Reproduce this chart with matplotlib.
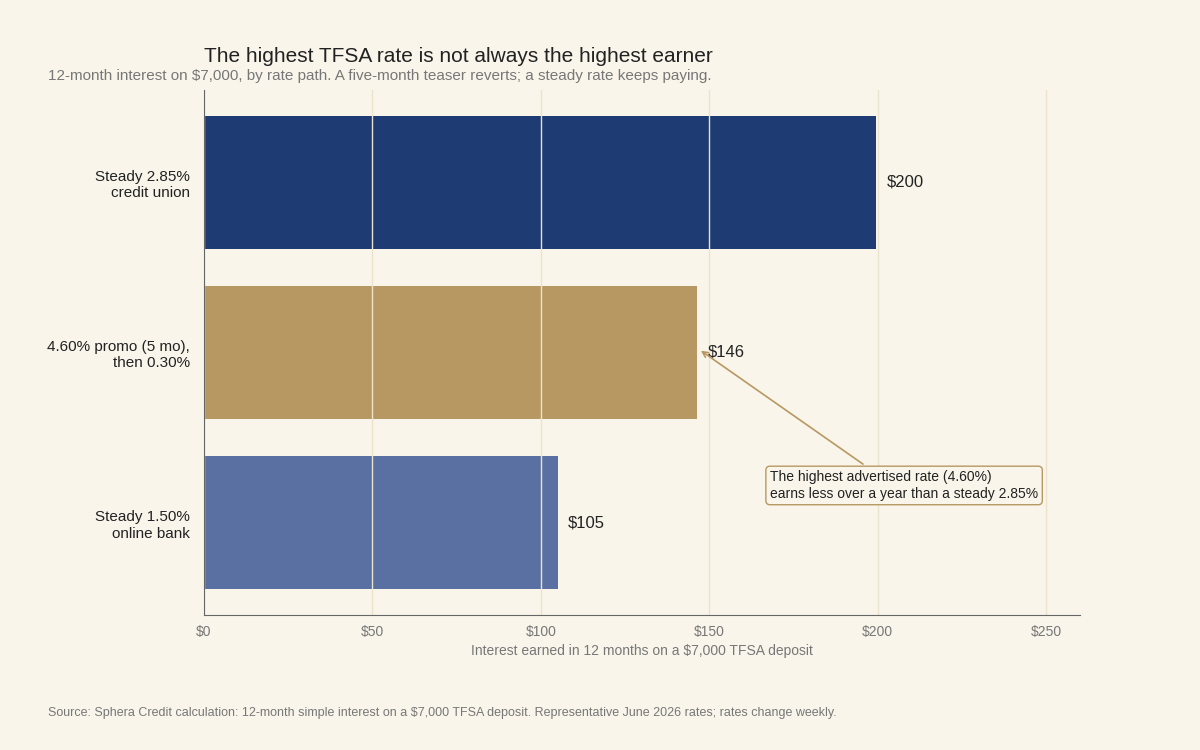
import matplotlib.pyplot as plt
import numpy as np

plt.rcParams['font.family'] = ['Liberation Sans', 'DejaVu Sans']

categories = ["Steady 2.85%\ncredit union", "4.60% promo (5 mo),\nthen 0.30%", "Steady 1.50%\nonline bank"]
interest = [199.5, 146.4, 105.0]
value_labels = ["$200", "$146", "$105"]
colors = ["#1f3b73", "#b89862", "#5a70a3"]
xticks = [0, 50, 100, 150, 200, 250]

bg = "#f9f5ea"
fig = plt.figure(figsize=(12, 7.5), dpi=100, facecolor=bg)
ax = fig.add_axes([0.17, 0.18, 0.73, 0.70], facecolor=bg)

y = np.arange(len(categories))
ax.barh(y, interest, height=0.78, color=colors, zorder=2)
ax.set_ylim(2.54, -0.54)
ax.set_xlim(0, 260)

for yi, v, lab in zip(y, interest, value_labels):
    ax.annotate(lab, (v, yi), xytext=(7.5, 0), textcoords="offset points",
                va="center", ha="left", fontsize=12, color="#222222")

ax.set_yticks(y)
ax.set_yticklabels(categories, fontsize=11, color="#222222")
ax.set_xticks(xticks)
ax.set_xticklabels(["$" + str(t) for t in xticks], fontsize=10, color="#777777")
ax.tick_params(length=0, pad=10)
ax.tick_params(axis="x", pad=7)
ax.set_xlabel("Interest earned in 12 months on a $7,000 TFSA deposit", fontsize=10, color="#777777", labelpad=4)

ax.grid(axis="x", color="#ebe3cb", linewidth=1, zorder=3)
ax.set_axisbelow(False)
for s in ["top", "right"]:
    ax.spines[s].set_visible(False)
for s in ["left", "bottom"]:
    ax.spines[s].set_color("#666666")
    ax.spines[s].set_zorder(4)

ax.annotate("The highest advertised rate (4.60%)\nearns less over a year than a steady 2.85%",
            xy=(146.8, 0.98), xytext=(168, 1.78), fontsize=10, color="#222222",
            va="center", ha="left",
            bbox=dict(boxstyle="round,pad=0.3", fc=bg, ec="#b89862", lw=1),
            arrowprops=dict(arrowstyle="->", color="#b89862", lw=1.2, relpos=(0.38, 1)),
            zorder=5)

fig.text(0.17, 0.924, "The highest TFSA rate is not always the highest earner", fontsize=15, color="#222222", va="center")
fig.text(0.04, 0.899, "12-month interest on $7,000, by rate path. A five-month teaser reverts; a steady rate keeps paying.",
         fontsize=11, color="#777777", va="center")
fig.text(0.04, 0.049, "Source: Sphera Credit calculation: 12-month simple interest on a $7,000 TFSA deposit. Representative June 2026 rates; rates change weekly.",
         fontsize=9, color="#777777", va="center")

plt.savefig("out.png", dpi=100, facecolor=bg)
plt.close()
